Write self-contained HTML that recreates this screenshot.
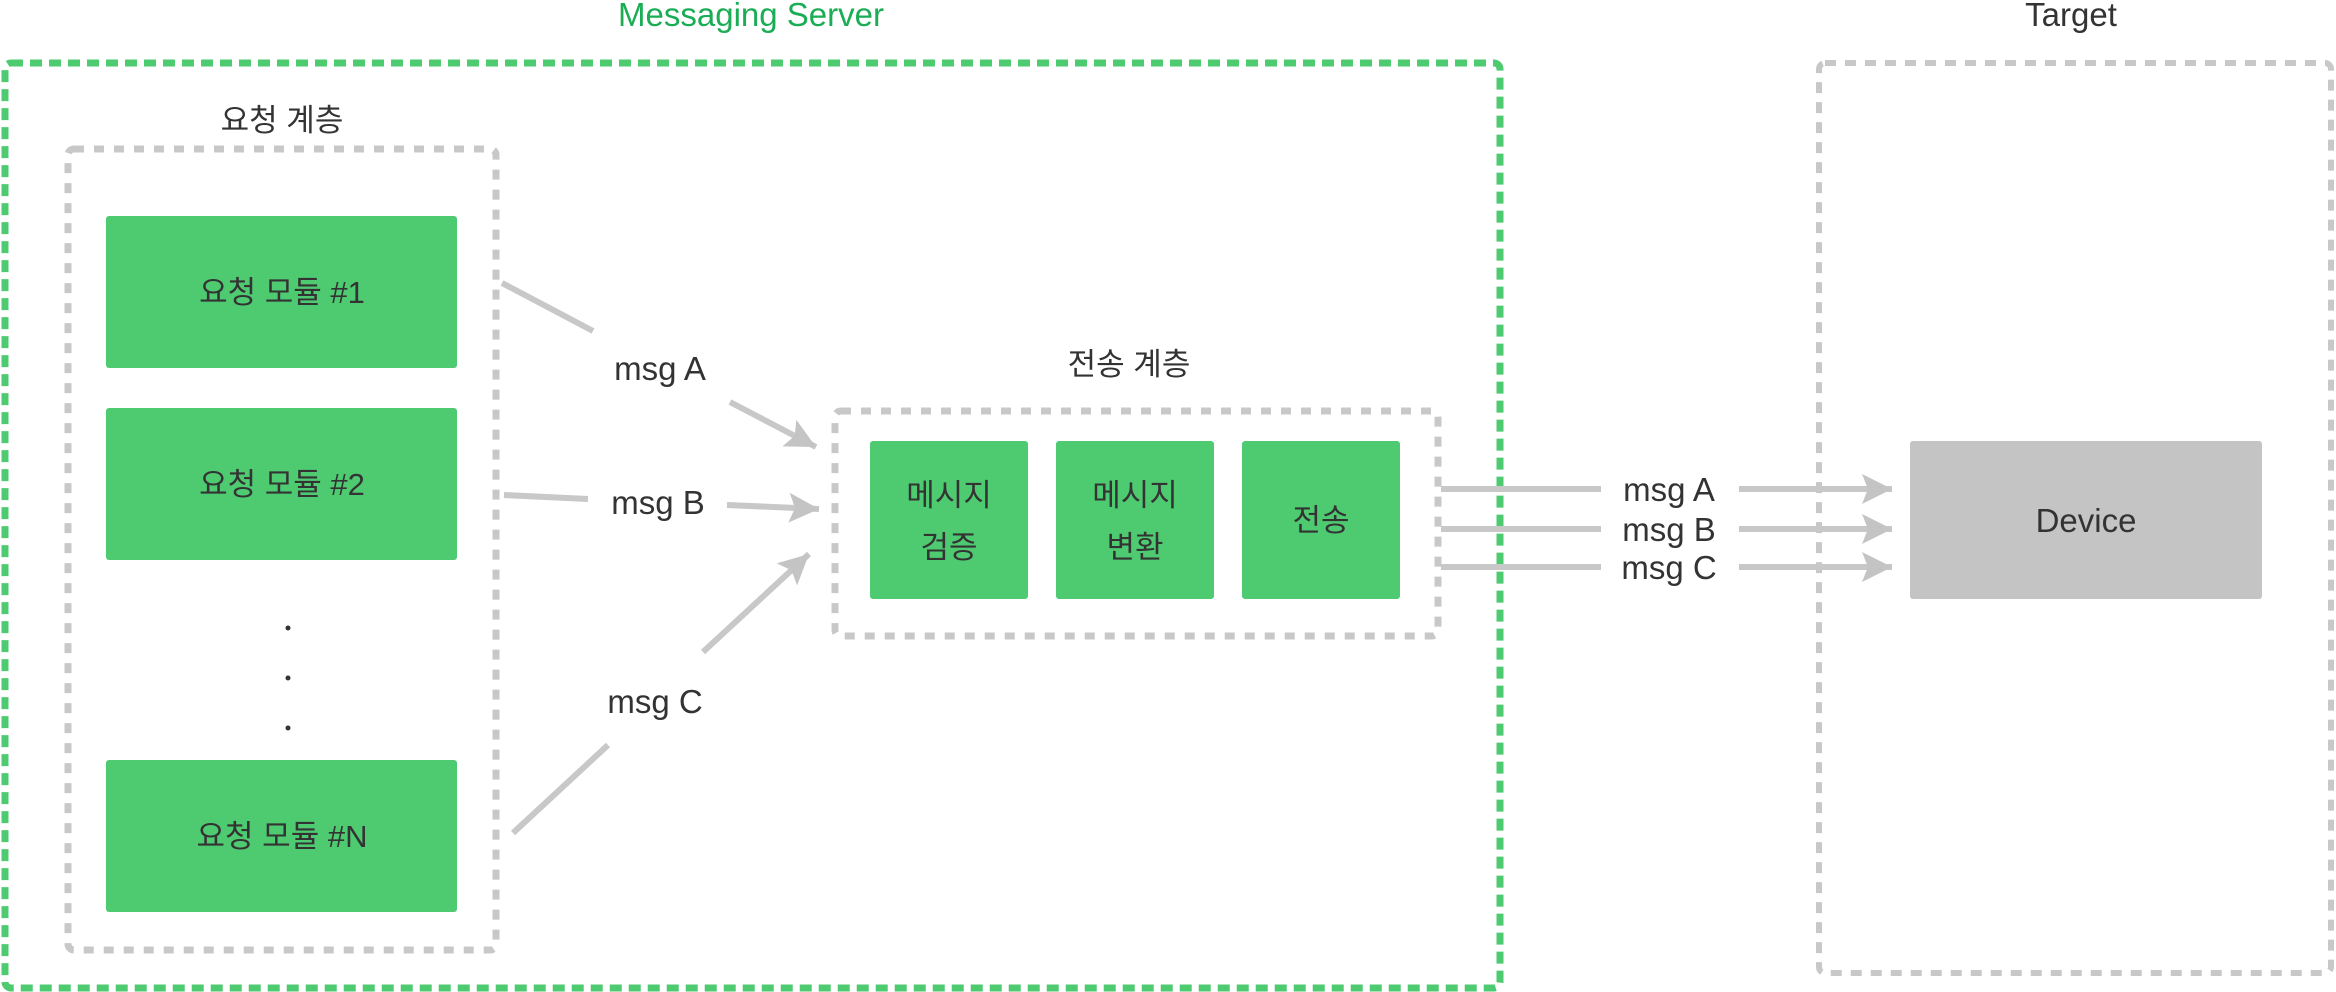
<!DOCTYPE html>
<html><head><meta charset="utf-8"><style>html,body{margin:0;padding:0;background:#fff}svg{display:block}</style></head>
<body>
<svg width="2336" height="992" viewBox="0 0 2336 992" xmlns="http://www.w3.org/2000/svg" font-family="'Liberation Sans','Noto Sans CJK KR',sans-serif">
<defs>
<marker id="ah" markerUnits="userSpaceOnUse" markerWidth="34" markerHeight="34" refX="30" refY="15" orient="auto">
<path d="M0,0 L30,15 L0,30 L6,15 Z" fill="#c4c4c4"/>
</marker>
</defs>
<text x="751" y="26" font-size="33" fill="#1aad55" text-anchor="middle">Messaging Server</text>
<rect x="5" y="63" width="1495" height="925" rx="6" fill="none" stroke="#4ecb70" stroke-width="7" stroke-dasharray="12 7"/>
<text x="2071" y="26" font-size="33" fill="#333" text-anchor="middle">Target</text>
<rect x="1819" y="63" width="512" height="910" rx="6" fill="none" stroke="#c8c8c8" stroke-width="6" stroke-dasharray="11 9"/>

<text x="282" y="131" font-size="31" fill="#333" text-anchor="middle">요청 계층</text>
<rect x="68" y="149" width="428" height="801" rx="6" fill="none" stroke="#c8c8c8" stroke-width="7" stroke-dasharray="10 10"/>
<rect x="106" y="216" width="351" height="152" rx="3" fill="#4ecb70"/>
<rect x="106" y="408" width="351" height="152" rx="3" fill="#4ecb70"/>
<rect x="106" y="760" width="351" height="152" rx="3" fill="#4ecb70"/>
<g font-size="31" fill="#333" text-anchor="middle">
<text x="282" y="303">요청 모듈 #1</text>
<text x="282" y="495">요청 모듈 #2</text>
<text x="282" y="847">요청 모듈 #N</text>
</g>
<g fill="#333"><circle cx="288" cy="628" r="2.5"/><circle cx="288" cy="678" r="2.5"/><circle cx="288" cy="728" r="2.5"/></g>

<text x="1129" y="375" font-size="31" fill="#333" text-anchor="middle">전송 계층</text>
<rect x="835" y="411" width="603" height="225" rx="6" fill="none" stroke="#c8c8c8" stroke-width="7" stroke-dasharray="10 10"/>
<rect x="870" y="441" width="158" height="158" rx="3" fill="#4ecb70"/>
<rect x="1056" y="441" width="158" height="158" rx="3" fill="#4ecb70"/>
<rect x="1242" y="441" width="158" height="158" rx="3" fill="#4ecb70"/>
<g font-size="31" fill="#333" text-anchor="middle">
<text x="949" y="506">메시지</text><text x="949" y="558">검증</text>
<text x="1135" y="506">메시지</text><text x="1135" y="558">변환</text>
<text x="1321" y="531">전송</text>
</g>

<rect x="1910" y="441" width="352" height="158" rx="3" fill="#c4c4c4"/>
<text x="2086" y="532" font-size="33" fill="#333" text-anchor="middle">Device</text>

<g stroke="#c8c8c8" stroke-width="6" fill="none">
<line x1="502" y1="283" x2="593" y2="331"/>
<line x1="730" y1="402" x2="816" y2="447" marker-end="url(#ah)"/>
<line x1="504" y1="495" x2="588" y2="499"/>
<line x1="727" y1="505" x2="819" y2="509" marker-end="url(#ah)"/>
<line x1="513" y1="833" x2="608" y2="745"/>
<line x1="703" y1="652" x2="809" y2="554" marker-end="url(#ah)"/>
<line x1="1441" y1="489" x2="1601" y2="489"/>
<line x1="1739" y1="489" x2="1892" y2="489" marker-end="url(#ah)"/>
<line x1="1441" y1="529" x2="1601" y2="529"/>
<line x1="1739" y1="529" x2="1892" y2="529" marker-end="url(#ah)"/>
<line x1="1441" y1="567" x2="1601" y2="567"/>
<line x1="1739" y1="567" x2="1892" y2="567" marker-end="url(#ah)"/>
</g>
<g font-size="33" fill="#333" text-anchor="middle">
<text x="660" y="380">msg A</text>
<text x="658" y="514">msg B</text>
<text x="655" y="713">msg C</text>
<text x="1669" y="501">msg A</text>
<text x="1669" y="541">msg B</text>
<text x="1669" y="579">msg C</text>
</g>
</svg>
</body></html>
